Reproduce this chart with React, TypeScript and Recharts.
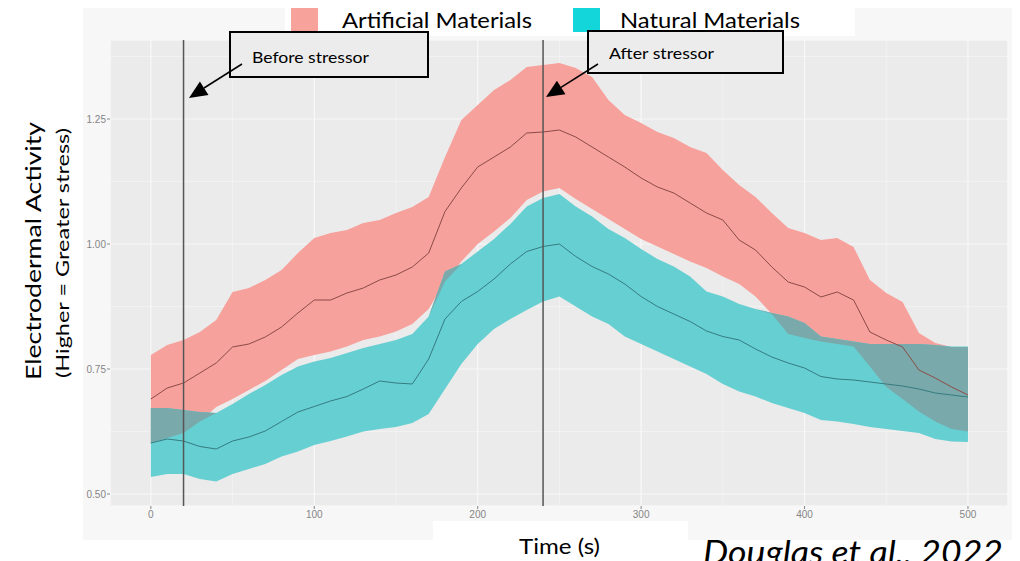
import {
  Area,
  CartesianGrid,
  ComposedChart,
  Line,
  ReferenceLine,
  XAxis,
  YAxis,
} from "recharts";

// time in seconds, one reading every 10 s
const times = [
  0, 10, 20, 30, 40, 50, 60, 70, 80, 90, 100, 110, 120, 130, 140, 150, 160,
  170, 180, 190, 200, 210, 220, 230, 240, 250, 260, 270, 280, 290, 300, 310,
  320, 330, 340, 350, 360, 370, 380, 390, 400, 410, 420, 430, 440, 450, 460,
  470, 480, 490, 500,
];

const artificialMean = [
  0.69, 0.712, 0.722, 0.742, 0.762, 0.794, 0.8, 0.814, 0.834, 0.862, 0.888,
  0.888, 0.902, 0.912, 0.928, 0.938, 0.954, 0.982, 1.065, 1.112, 1.154, 1.174,
  1.194, 1.222, 1.224, 1.228, 1.214, 1.194, 1.174, 1.154, 1.132, 1.114, 1.102,
  1.082, 1.062, 1.048, 1.008, 0.988, 0.954, 0.924, 0.914, 0.894, 0.904, 0.888,
  0.824, 0.808, 0.794, 0.748, 0.732, 0.714, 0.698,
];
const artificialLow = [
  0.602, 0.612, 0.622, 0.645, 0.674, 0.69, 0.708, 0.726, 0.748, 0.77, 0.778,
  0.785, 0.795, 0.808, 0.815, 0.825, 0.84, 0.87, 0.925, 0.965, 1.0, 1.025,
  1.052, 1.088, 1.105, 1.112, 1.09, 1.07, 1.05, 1.03, 1.01, 0.995, 0.98, 0.965,
  0.952, 0.935, 0.92, 0.895, 0.86, 0.82, 0.812, 0.805, 0.8, 0.795, 0.755,
  0.714, 0.69, 0.665, 0.645, 0.63, 0.625,
];
const artificialHigh = [
  0.778, 0.798, 0.808, 0.824, 0.848, 0.904, 0.912, 0.928, 0.948, 0.982, 1.012,
  1.022, 1.028, 1.042, 1.048, 1.062, 1.074, 1.094, 1.174, 1.248, 1.278, 1.308,
  1.328, 1.354, 1.358, 1.362, 1.352, 1.334, 1.288, 1.258, 1.242, 1.224, 1.212,
  1.194, 1.182, 1.148, 1.118, 1.094, 1.062, 1.032, 1.022, 1.008, 1.012, 0.994,
  0.928, 0.902, 0.884, 0.822, 0.802, 0.794, 0.794,
];

const naturalMean = [
  0.602, 0.61, 0.606, 0.595, 0.59, 0.606, 0.614, 0.626, 0.645, 0.664, 0.675,
  0.686, 0.695, 0.71, 0.726, 0.722, 0.72, 0.77, 0.85, 0.885, 0.905, 0.93, 0.96,
  0.985, 0.995, 1.0, 0.975, 0.955, 0.94, 0.92, 0.895, 0.875, 0.86, 0.845,
  0.826, 0.815, 0.808, 0.79, 0.774, 0.762, 0.752, 0.735, 0.73, 0.728, 0.724,
  0.72, 0.716, 0.71, 0.702, 0.698, 0.694,
];
const naturalLow = [
  0.534, 0.54, 0.54, 0.53, 0.525, 0.54, 0.55, 0.56, 0.575, 0.585, 0.598, 0.606,
  0.615, 0.625, 0.63, 0.634, 0.642, 0.66, 0.71, 0.76, 0.8, 0.83, 0.85, 0.868,
  0.885, 0.895, 0.875, 0.855, 0.84, 0.815, 0.8, 0.785, 0.77, 0.755, 0.74, 0.72,
  0.705, 0.695, 0.682, 0.672, 0.662, 0.648, 0.645, 0.64, 0.634, 0.63, 0.626,
  0.622, 0.61, 0.605, 0.604,
];
const naturalHigh = [
  0.672, 0.672, 0.668, 0.664, 0.662, 0.68, 0.7, 0.718, 0.738, 0.755, 0.765,
  0.772, 0.782, 0.792, 0.8, 0.808, 0.82, 0.855, 0.945, 0.96, 0.985, 1.01, 1.04,
  1.075, 1.092, 1.1, 1.075, 1.055, 1.03, 1.012, 0.99, 0.97, 0.955, 0.935,
  0.905, 0.895, 0.88, 0.87, 0.862, 0.855, 0.842, 0.815, 0.81, 0.805, 0.8, 0.8,
  0.8, 0.8, 0.798, 0.795, 0.795,
];

const xTicks = [0, 100, 200, 300, 400, 500];
const xMinorTicks = [50, 150, 250, 350, 450];
const yTicks = [0.5, 0.75, 1.0, 1.25];
const yMinorTicks = [0.625, 0.875, 1.125, 1.375];
const stressorTimes = [20, 240];

const X_DOMAIN: [number, number] = [-25, 524.5];
const Y_DOMAIN: [number, number] = [0.476, 1.408];

const rows = times.map((t, i) => {
  const oLow = Math.max(artificialLow[i], naturalLow[i]);
  const oHigh = Math.min(artificialHigh[i], naturalHigh[i]);
  const overlap = oHigh > oLow ? [oLow, oHigh] : [oHigh, oHigh];
  return {
    t,
    artificial: [artificialLow[i], artificialHigh[i]],
    natural: [naturalLow[i], naturalHigh[i]],
    overlap,
    artificialMean: artificialMean[i],
    naturalMean: naturalMean[i],
  };
});

const tickStyle = { fontSize: 10, fill: "#858585", fontFamily: "Liberation Sans" };
const label = { fontFamily: "Lato", fill: "#000", lengthAdjust: "spacingAndGlyphs" };

export default function App() {
  return (
    <div
      style={{
        position: "absolute",
        left: 0,
        top: 0,
        width: 1020,
        height: 561,
        background: "#fff",
        overflow: "hidden",
      }}
    >
      <div
        style={{
          position: "absolute",
          left: 83,
          top: 8,
          width: 929,
          height: 532,
          background: "#f7f7f7",
        }}
      />
      <div style={{ position: "absolute", left: 0, top: 0 }}>
        <ComposedChart
          width={1020}
          height={561}
          data={rows}
          margin={{ top: 40, right: 12, bottom: 35, left: 50 }}
        >
          <XAxis
            xAxisId="minor"
            dataKey="t"
            type="number"
            domain={X_DOMAIN}
            ticks={xMinorTicks}
            allowDataOverflow
            hide
          />
          <YAxis
            yAxisId="minor"
            type="number"
            domain={Y_DOMAIN}
            ticks={yMinorTicks}
            allowDataOverflow
            hide
          />
          <CartesianGrid
            xAxisId="minor"
            yAxisId="minor"
            fill="#ebebeb"
            fillOpacity={1}
            stroke="#f6f6f6"
            strokeWidth={0.6}
          />
          <CartesianGrid stroke="#f8f8f8" strokeWidth={1.2} />
          <XAxis
            dataKey="t"
            type="number"
            domain={X_DOMAIN}
            ticks={xTicks}
            allowDataOverflow
            axisLine={false}
            tickSize={3}
            tickMargin={2}
            height={20}
            tick={tickStyle}
            tickLine={{ stroke: "#888" }}
          />
          <YAxis
            type="number"
            domain={Y_DOMAIN}
            ticks={yTicks}
            allowDataOverflow
            axisLine={false}
            tickSize={3}
            tickMargin={1}
            width={60}
            tick={tickStyle}
            tickLine={{ stroke: "#888" }}
            tickFormatter={(v: number) => v.toFixed(2)}
          />
          <Area
            dataKey="artificial"
            type="linear"
            stroke="none"
            fill="#f7a19c"
            fillOpacity={1}
            isAnimationActive={false}
          />
          <Area
            dataKey="natural"
            type="linear"
            stroke="none"
            fill="#66cfd2"
            fillOpacity={1}
            isAnimationActive={false}
          />
          <Area
            dataKey="overlap"
            type="linear"
            stroke="none"
            fill="#7aa9ab"
            fillOpacity={1}
            isAnimationActive={false}
          />
          <Line
            dataKey="artificialMean"
            type="linear"
            stroke="#8c4b47"
            strokeWidth={1}
            dot={false}
            isAnimationActive={false}
          />
          <Line
            dataKey="naturalMean"
            type="linear"
            stroke="#357c80"
            strokeWidth={1}
            dot={false}
            isAnimationActive={false}
          />
          {stressorTimes.map((s) => (
            <ReferenceLine key={s} x={s} stroke="#555" strokeWidth={1.5} />
          ))}
        </ComposedChart>
      </div>
      <svg
        width={1020}
        height={561}
        style={{ position: "absolute", left: 0, top: 0, pointerEvents: "none" }}
      >
        {/* legend */}
        <rect x={285} y={0} width={570} height={36} fill="#fff" />
        <rect x={291} y={8} width={27} height={24} fill="#f8a29c" />
        <text x={342} y={28} fontSize={22} textLength={190} {...label}>
          Artificial Materials
        </text>
        <rect x={573} y={8} width={27} height={24} fill="#13d6da" />
        <text x={620} y={28} fontSize={22} textLength={180} {...label}>
          Natural Materials
        </text>

        {/* annotations */}
        <rect x={230} y={32} width={198} height={45} fill="#ececec" stroke="#000" strokeWidth={2} />
        <text x={252} y={63} fontSize={16} textLength={117} {...label}>
          Before stressor
        </text>
        <line x1={242} y1={64} x2={204} y2={88} stroke="#000" strokeWidth={1.5} />
        <polygon points="189,98 208.5,95 199.9,81.6" fill="#000" />

        <rect x={588} y={31} width={195} height={42} fill="#ececec" stroke="#000" strokeWidth={2} />
        <text x={609} y={59} fontSize={16} textLength={105} {...label}>
          After stressor
        </text>
        <line x1={598} y1={64} x2={561} y2={87.4} stroke="#000" strokeWidth={1.5} />
        <polygon points="546,97 565.5,94.2 556.9,80.7" fill="#000" />

        {/* axis titles */}
        <text
          transform="translate(41,251) rotate(-90)"
          textAnchor="middle"
          fontSize={22}
          textLength={258}
          {...label}
        >
          Electrodermal Activity
        </text>
        <text
          transform="translate(69,253) rotate(-90)"
          textAnchor="middle"
          fontSize={18}
          textLength={250}
          {...label}
        >
          (Higher = Greater stress)
        </text>
        <rect x={433} y={521} width={255} height={40} fill="#fff" />
        <text x={519} y={554} fontSize={21} textLength={81} {...label}>
          Time (s)
        </text>
        <text x={703} y={564} fontSize={32} fontStyle="italic" textLength={300} {...label}>
          Douglas et al., 2022
        </text>
      </svg>
    </div>
  );
}
